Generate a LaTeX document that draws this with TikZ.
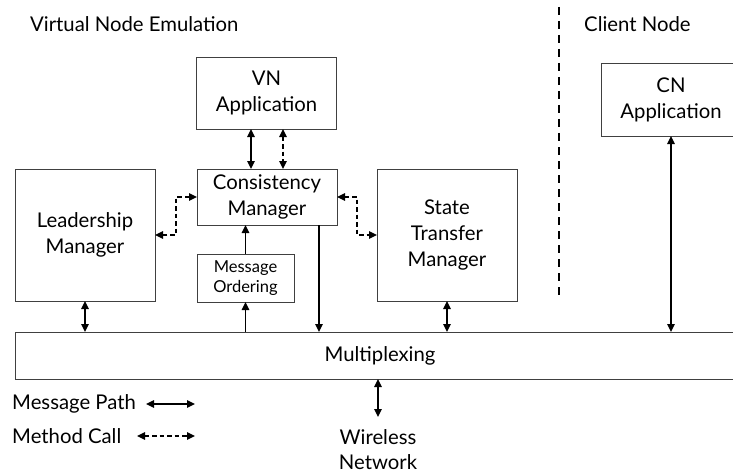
\documentclass[tikz,border=0pt]{standalone}
\usepackage{fontspec}
\setmainfont{Lato}
\usetikzlibrary{arrows.meta,calc}
\begin{document}
\begin{tikzpicture}[x=1pt,y=-1pt,
  font=\fontsize{20.3}{26}\selectfont,
  blk/.style={draw=black!75, line width=0.9pt, inner sep=2pt, outer sep=0pt,
    align=center, minimum width=140pt},
  lbl/.style={inner sep=0pt, anchor=west},
  msg/.style={line width=1.3pt, {Triangle[length=8pt,width=7.5pt]}-{Triangle[length=8pt,width=7.5pt]}},
  meth/.style={line width=1.3pt, dash pattern=on 4.5pt off 3pt,
    {Triangle[length=8pt,width=7.5pt]}-{Triangle[length=8pt,width=7.5pt]}},
  one/.style={line width=1.3pt, -{Triangle[length=8pt,width=7.5pt]}}]
\useasboundingbox (0,0) rectangle (733,476);
\clip (0,0) rectangle (733,476);

% section headings and the divider between them
\node[lbl] (vne) at (30,24) {Virtual Node Emulation};
\node[lbl] (cnh) at (584,24) {Client Node};
\coordinate (divtop) at (559,7);
\coordinate (divbot) at (559,297);
\draw[line width=1.3pt, dash pattern=on 8pt off 6pt] (divtop) -- (divbot);

% component boxes
\node[blk, minimum height=72pt] (vn) at (266.5,93) {VN\\Application};
\node[blk, minimum height=73pt] (cn) at (671,99.5) {CN\\Application};
\node[blk, minimum height=56pt] (cm) at (267,197) {Consistency\\Manager};
\node[blk, minimum width=97pt, minimum height=48pt,
      font=\fontsize{16.5}{19.5}\selectfont] (mo) at (245.5,278) {Message\\Ordering};
\node[blk, minimum height=132pt] (lm) at (85,235) {Leadership\\Manager};
\node[blk, minimum height=132pt] (st) at (447,235) {State\\Transfer\\Manager};
\node[blk, minimum width=730pt, minimum height=47pt] (mux) at (380,355.5) {Multiplexing};
\node[inner sep=2pt, align=center, font=\fontsize{20.3}{25}\selectfont]
  (wn) at (378,450) {Wireless\\Network};

% message paths
\draw[msg] ($(vn.south)+(-15.5,0)$) -- ($(cm.north)+(-16,0)$);
\draw[meth] ($(vn.south)+(16.5,0)$) -- ($(cm.north)+(16,0)$);
\draw[one] (mo.north) -- (mo.north |- cm.south);
\draw[one] (mo.south |- mux.north) -- (mo.south);
\coordinate (cmout) at ($(cm.south)+(52,0)$);
\draw[one] (cmout) -- (cmout |- mux.north);
\draw[msg] (lm.south) -- (lm.south |- mux.north);
\draw[msg] (st.south) -- (st.south |- mux.north);
\draw[msg] (cn.south) -- (cn.south |- mux.north);
\coordinate (wntop) at (378,417);
\draw[msg] (wntop |- mux.south) -- (wntop);

% method calls
\draw[meth] (cm.west) -- ++(-21,0) |- (lm.east);
\draw[meth] (cm.east) -- ++(20,0) |- (st.west);

% legend
\node[lbl] (lgmsg) at (12,404) {Message Path};
\node[lbl] (lgmeth) at (12,436) {Method Call};
\coordinate (lga) at (146,404);
\coordinate (lgb) at (195,404);
\coordinate (lgc) at (137,436);
\coordinate (lgd) at (195,436);
\draw[msg] (lga) -- (lgb);
\draw[meth] (lgc) -- (lgd);
\end{tikzpicture}
\end{document}
